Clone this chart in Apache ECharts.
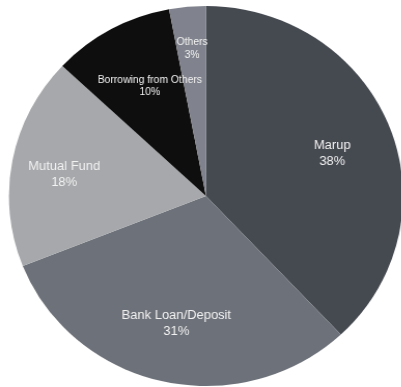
<!DOCTYPE html>
<html>
<head>
<meta charset="utf-8">
<script src="https://cdn.jsdelivr.net/npm/echarts@6/dist/echarts.min.js"></script>
<style>
html,body{margin:0;padding:0;background:#fff;overflow:hidden;}
#chart{width:387px;height:387px;transform:scaleX(1.037);transform-origin:0 0;}
</style>
</head>
<body>
<div id="chart"></div>
<script>
const categories = ["Marup", "Bank Loan/Deposit", "Mutual Fund", "Borrowing from Others", "Others"];
const values = [38, 31, 18, 10, 3];
const colors = ["#454950", "#6d7179", "#a6a8ab", "#0e0e0e", "#80838d"];
const labelSizes = [12.5, 12.5, 12.5, 10, 10];
const labelOffsets = [[0, 6], [0, 0], [-8, 3], [9, 5], [-1, -17]];

const chart = echarts.init(document.getElementById('chart'));
const pieData = categories.map((c, i) => ({ name: c, value: values[i], itemStyle: { color: colors[i] } }));
const labelData = categories.map((c, i) => ({
  name: c, value: values[i],
  label: { fontSize: labelSizes[i], lineHeight: labelSizes[i] * 1.25, offset: labelOffsets[i] }
}));
chart.setOption({
  animation: false,
  series: [
    {
      type: 'pie',
      center: [198.6, 196],
      radius: [0, 190],
      startAngle: 90,
      clockwise: true,
      silent: true,
      label: { show: false },
      labelLine: { show: false },
      itemStyle: { borderWidth: 0 },
      data: pieData
    },
    {
      type: 'pie',
      center: [198.6, 196],
      radius: [66, 190],
      startAngle: 90,
      clockwise: true,
      silent: true,
      itemStyle: { color: 'rgba(0,0,0,0)', borderWidth: 0 },
      label: {
        show: true,
        position: 'inside',
        color: '#f2f2f2',
        fontFamily: 'Liberation Sans, Arial, sans-serif',
        formatter: p => p.name + '\n' + p.value + '%'
      },
      labelLine: { show: false },
      data: labelData
    }
  ]
});
</script>
</body>
</html>
